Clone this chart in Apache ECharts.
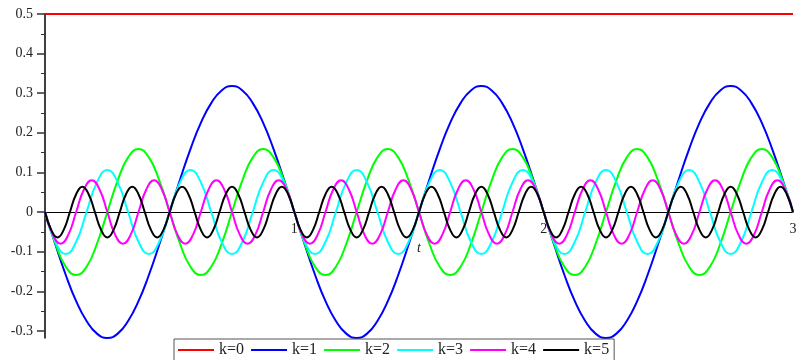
<!DOCTYPE html>
<html>
<head>
<meta charset="utf-8">
<script src="https://cdn.jsdelivr.net/npm/echarts@6/dist/echarts.min.js"></script>
<style>html,body{margin:0;padding:0;background:#fff}#c{width:796px;height:360px}</style>
</head>
<body>
<div id="c"></div>
<script>
// series names
const names = ['k=0','k=1','k=2','k=3','k=4','k=5'];
const colors = ['#ff0000','#0000ff','#00ff00','#00ffff','#ff00ff','#000000'];
// sample spacing in t for each series
const steps = [3, 1/24, 1/24, 1/24, 1/32, 1/40];
// values
const k0 = [0.5, 0.5];
const k1 = [
0,-0.082,-0.159,-0.225,-0.275,-0.307,-0.318,-0.307,-0.275,-0.225,-0.159,-0.082,0,0.082,0.159,0.225,0.275,0.307,0.318,0.307,0.275,0.225,0.159,0.082,
0,-0.082,-0.159,-0.225,-0.275,-0.307,-0.318,-0.307,-0.275,-0.225,-0.159,-0.082,0,0.082,0.159,0.225,0.275,0.307,0.318,0.307,0.275,0.225,0.159,0.082,
0,-0.082,-0.159,-0.225,-0.275,-0.307,-0.318,-0.307,-0.275,-0.225,-0.159,-0.082,0,0.082,0.159,0.225,0.275,0.307,0.318,0.307,0.275,0.225,0.159,0.082,
0];
const k2 = [
0,-0.080,-0.138,-0.159,-0.138,-0.080,0,0.080,0.138,0.159,0.138,0.080,
0,-0.080,-0.138,-0.159,-0.138,-0.080,0,0.080,0.138,0.159,0.138,0.080,
0,-0.080,-0.138,-0.159,-0.138,-0.080,0,0.080,0.138,0.159,0.138,0.080,
0,-0.080,-0.138,-0.159,-0.138,-0.080,0,0.080,0.138,0.159,0.138,0.080,
0,-0.080,-0.138,-0.159,-0.138,-0.080,0,0.080,0.138,0.159,0.138,0.080,
0,-0.080,-0.138,-0.159,-0.138,-0.080,0,0.080,0.138,0.159,0.138,0.080,
0];
const k3 = [
0,-0.075,-0.106,-0.075,0,0.075,0.106,0.075,
0,-0.075,-0.106,-0.075,0,0.075,0.106,0.075,
0,-0.075,-0.106,-0.075,0,0.075,0.106,0.075,
0,-0.075,-0.106,-0.075,0,0.075,0.106,0.075,
0,-0.075,-0.106,-0.075,0,0.075,0.106,0.075,
0,-0.075,-0.106,-0.075,0,0.075,0.106,0.075,
0,-0.075,-0.106,-0.075,0,0.075,0.106,0.075,
0,-0.075,-0.106,-0.075,0,0.075,0.106,0.075,
0,-0.075,-0.106,-0.075,0,0.075,0.106,0.075,
0];
const k4 = [
0,-0.057,-0.080,-0.057,0,0.057,0.080,0.057,
0,-0.057,-0.080,-0.057,0,0.057,0.080,0.057,
0,-0.057,-0.080,-0.057,0,0.057,0.080,0.057,
0,-0.057,-0.080,-0.057,0,0.057,0.080,0.057,
0,-0.057,-0.080,-0.057,0,0.057,0.080,0.057,
0,-0.057,-0.080,-0.057,0,0.057,0.080,0.057,
0,-0.057,-0.080,-0.057,0,0.057,0.080,0.057,
0,-0.057,-0.080,-0.057,0,0.057,0.080,0.057,
0,-0.057,-0.080,-0.057,0,0.057,0.080,0.057,
0,-0.057,-0.080,-0.057,0,0.057,0.080,0.057,
0,-0.057,-0.080,-0.057,0,0.057,0.080,0.057,
0,-0.057,-0.080,-0.057,0,0.057,0.080,0.057,
0];
const k5 = [
0,-0.045,-0.064,-0.045,0,0.045,0.064,0.045,
0,-0.045,-0.064,-0.045,0,0.045,0.064,0.045,
0,-0.045,-0.064,-0.045,0,0.045,0.064,0.045,
0,-0.045,-0.064,-0.045,0,0.045,0.064,0.045,
0,-0.045,-0.064,-0.045,0,0.045,0.064,0.045,
0,-0.045,-0.064,-0.045,0,0.045,0.064,0.045,
0,-0.045,-0.064,-0.045,0,0.045,0.064,0.045,
0,-0.045,-0.064,-0.045,0,0.045,0.064,0.045,
0,-0.045,-0.064,-0.045,0,0.045,0.064,0.045,
0,-0.045,-0.064,-0.045,0,0.045,0.064,0.045,
0,-0.045,-0.064,-0.045,0,0.045,0.064,0.045,
0,-0.045,-0.064,-0.045,0,0.045,0.064,0.045,
0,-0.045,-0.064,-0.045,0,0.045,0.064,0.045,
0,-0.045,-0.064,-0.045,0,0.045,0.064,0.045,
0,-0.045,-0.064,-0.045,0,0.045,0.064,0.045,
0];
const allVals = [k0, k1, k2, k3, k4, k5];
// axis ticks
const yMajor = [-0.3,-0.2,-0.1,0,0.1,0.2,0.3,0.4,0.5];
const yMinor = [-0.25,-0.15,-0.05,0.05,0.15,0.25,0.35,0.45];
const xTicks = [0,1,2,3];
const yMin = -0.318, yMax = 0.5;

const font = "'Liberation Serif', 'Times New Roman', serif";
const chart = echarts.init(document.getElementById('c'), null, {renderer: 'canvas'});
const series = allVals.map((vals, s) => ({
  name: names[s],
  type: 'line',
  yAxisIndex: 0,
  data: vals.map((v, i) => [i * steps[s], v]),
  smooth: s === 0 ? false : 0.5,
  showSymbol: false,
  symbol: 'none',
  clip: false,
  lineStyle: {color: colors[s], width: 2},
  itemStyle: {color: colors[s]},
  animation: false
}));
chart.setOption({
  backgroundColor: '#ffffff',
  animation: false,
  grid: {left: 45, right: 3, top: 14, bottom: 22, containLabel: false, outerBoundsMode: 'none'},
  legend: {
    data: names,
    left: 174, top: 339,
    padding: [3, 5, 3, 4],
    borderColor: '#555', borderWidth: 1,
    itemWidth: 36, itemHeight: 2, itemGap: 7,
    icon: 'rect',
    textStyle: {fontFamily: font, fontSize: 16, color: '#222'}
  },
  xAxis: {
    type: 'value', min: 0, max: 3, interval: 1,
    name: 't', nameLocation: 'middle', nameGap: 29,
    nameTextStyle: {fontFamily: font, fontSize: 14, fontStyle: 'italic', color: '#222'},
    axisLine: {show: true, onZero: false, lineStyle: {color: '#000', width: 1}},
    axisTick: {show: false},
    splitLine: {show: false},
    axisLabel: {showMinLabel: false, margin: 10, fontFamily: font, fontSize: 14, color: '#222',
      customValues: xTicks, formatter: v => (v === 0 ? '' : String(v))}
  },
  yAxis: [{
    type: 'value', min: yMin, max: yMax, position: 'left',
    axisLine: {show: true, onZero: false, lineStyle: {color: '#000', width: 1.5}},
    axisTick: {show: true, length: 8, customValues: yMajor, lineStyle: {color: '#333', width: 1.5}},
    axisLabel: {margin: 12, fontFamily: font, fontSize: 14, color: '#222', customValues: yMajor,
      formatter: v => String(Math.round(v * 10) / 10)},
    splitLine: {show: false}
  }, {
    type: 'value', min: yMin, max: yMax, position: 'left',
    axisLine: {show: false, onZero: false},
    axisTick: {show: true, length: 4, customValues: yMinor, lineStyle: {color: '#333', width: 1}},
    axisLabel: {show: false},
    splitLine: {show: false}
  }],
  series: series
});
// move the t axis up so that it crosses the y axis at 0
const yZero = chart.convertToPixel({yAxisIndex: 0}, 0);
const yBottom = chart.convertToPixel({yAxisIndex: 0}, yMin);
chart.setOption({xAxis: {offset: yZero - yBottom}});
</script>
</body>
</html>
